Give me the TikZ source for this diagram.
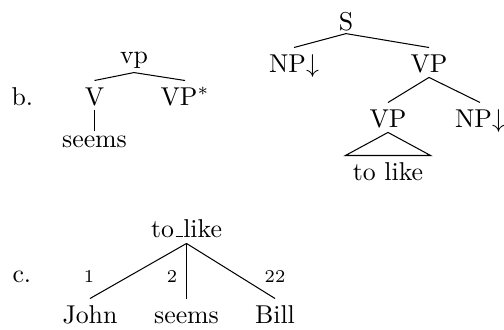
\documentclass[tikz,border=0pt]{standalone}
\begin{document}
\begin{tikzpicture}[x=0.3876pt,y=-0.3876pt,
  tn/.style={inner sep=0pt,anchor=base,text height=9.3pt,text depth=1.9pt},
  lab/.style={inner sep=0pt,anchor=base west},
  num/.style={inner sep=0pt,anchor=base,font=\scriptsize}]
\useasboundingbox (0,0) rectangle (504,329);
% b.
\node[lab] (lb) at (11,105) {b.};
\node[tn,text depth=3.5pt] (vp) at (134,63) {vp};
\node[tn] (V) at (94.5,105) {V};
\node[tn] (VPs) at (185,105) {VP$^*$};
\node[tn,text height=6.2pt] (seemsA) at (94.5,147) {seems};
\draw (vp.south) -- (V.north);
\draw (vp.south) -- (VPs.north);
\draw (V.south) -- (seemsA.north);
% right tree
\node[tn,text depth=1.2pt] (S) at (346,30) {S};
\node[tn] (NP1) at (294,72) {NP$\downarrow$};
\node[tn] (VP1) at (429,72) {VP};
\node[tn] (VP2) at (388,127) {VP};
\node[tn] (NP2) at (480,127) {NP$\downarrow$};
\node[tn,inner xsep=2.7pt] (tl) at (388,180) {to like};
\draw (S.south) -- (NP1.north);
\draw (S.south) -- (VP1.north);
\draw (VP1.south) -- (VP2.north);
\draw (VP1.south) -- (NP2.north);
\draw (VP2.south) -- (tl.north west) -- (tl.north east) -- cycle;
% c.
\node[lab] (lc) at (12,282) {c.};
\node[tn,text depth=2.3pt] (tol) at (186.5,237) {to\kern.06em\vbox{\hrule width .3em height .5pt}like};
\node[tn] (john) at (90,323) {John};
\node[tn] (seemsB) at (186.5,323) {seems};
\node[tn] (bill) at (275,323) {Bill};
\draw (tol.south) -- (john.north);
\draw (tol.south) -- (seemsB.north);
\draw (tol.south) -- (bill.north);
\node[num] (n1) at (89,282) {1};
\node[num] (n2) at (172,282) {2};
\node[num] (n22) at (275,282) {22};
\end{tikzpicture}
\end{document}
